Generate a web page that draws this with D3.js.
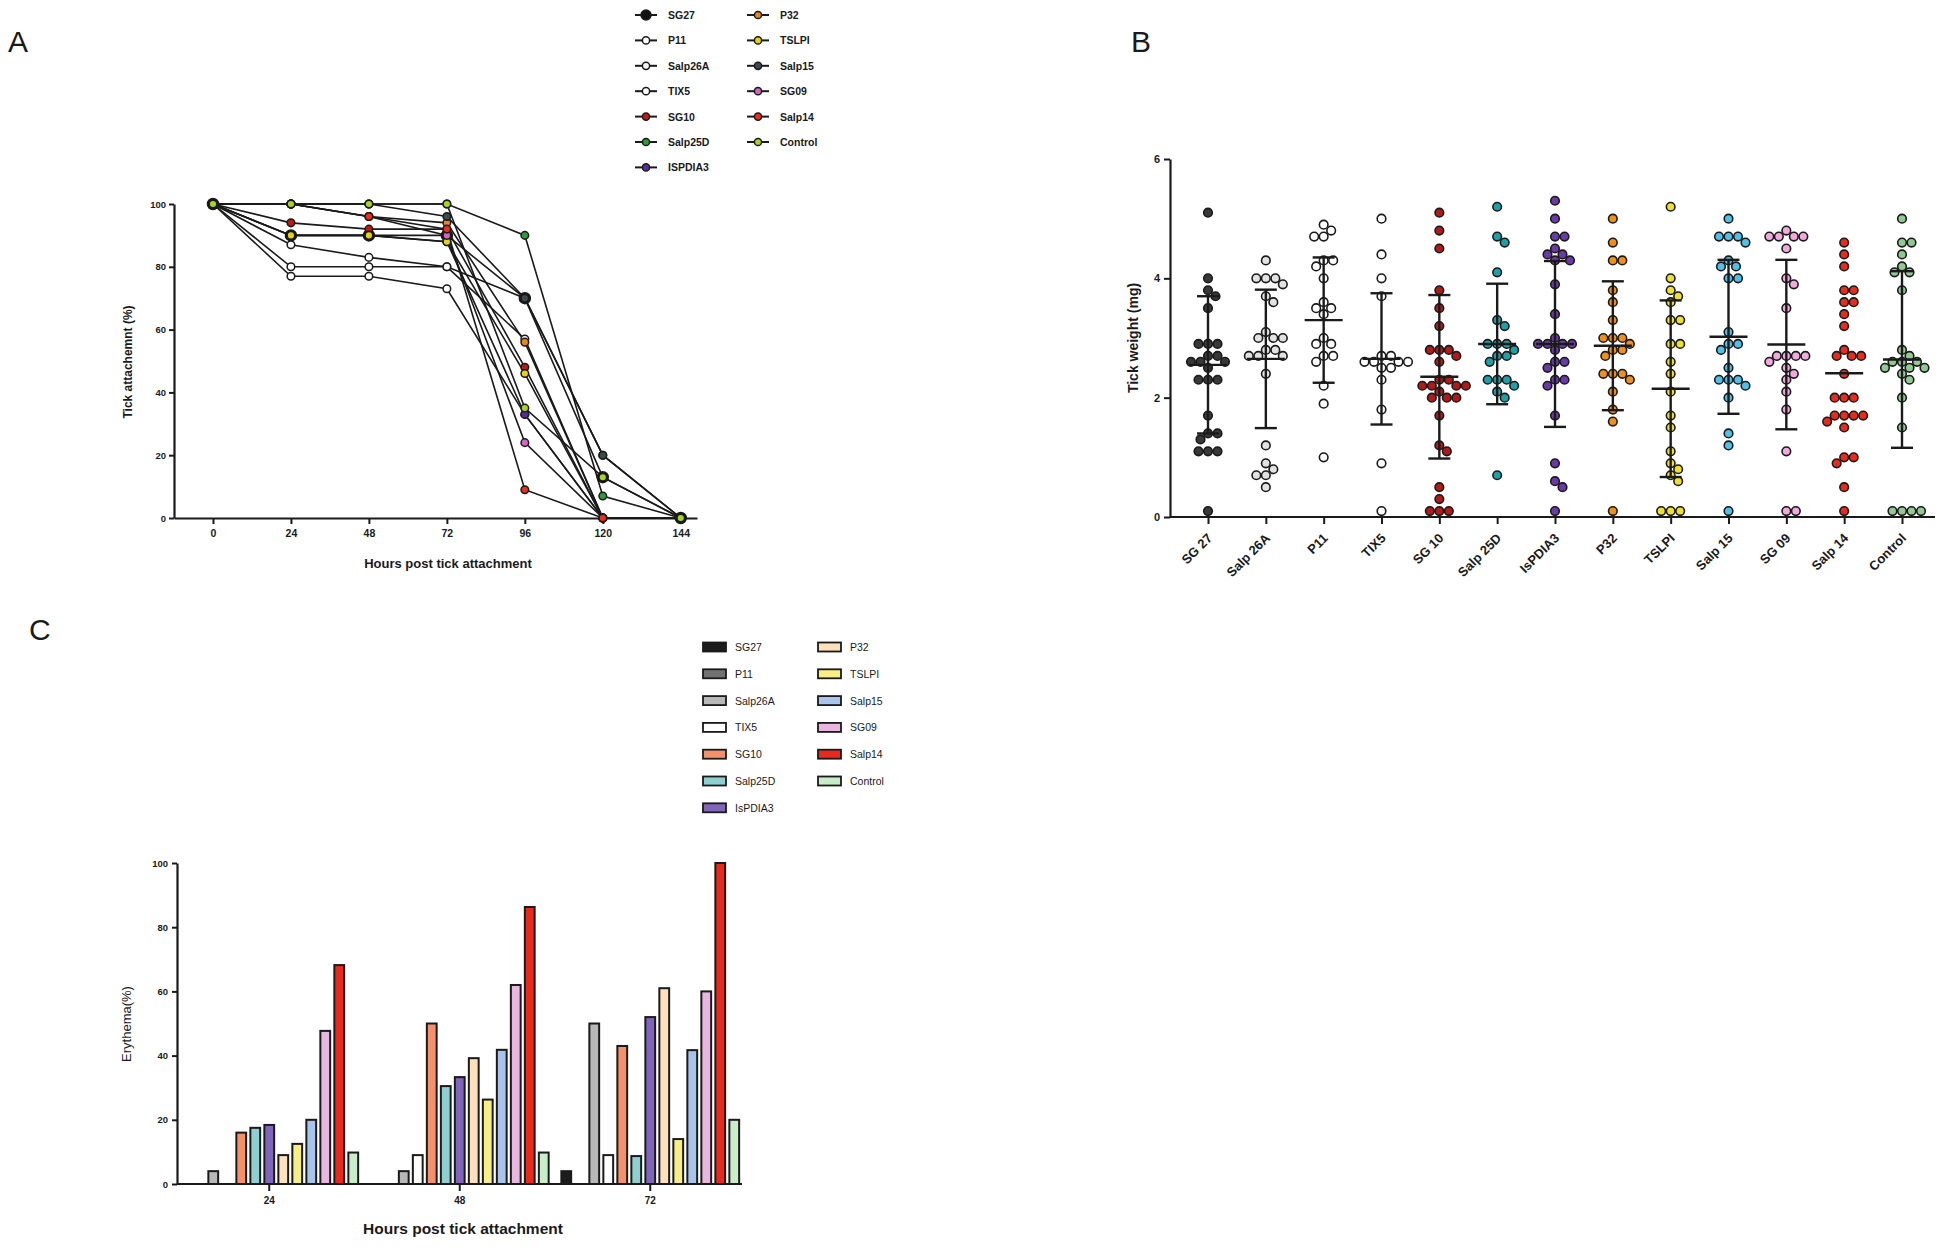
<!DOCTYPE html>
<html><head><meta charset="utf-8">
<script src="https://cdn.jsdelivr.net/npm/d3@7"></script>
<style>
body{margin:0;background:#fff}
text{font-family:"Liberation Sans",Arial,sans-serif;fill:#1a1a1a}
</style>
</head><body>
<svg id="c" width="1950" height="1248"></svg>
<script>
// ---------------- DATA ----------------
// Panel A: tick attachment (%) over time
const hoursA = [0, 24, 48, 72, 96, 120, 144];
const namesA = ["SG27","P11","Salp26A","TIX5","SG10","Salp25D","ISPDIA3","P32","TSLPI","Salp15","SG09","Salp14","Control"];
const colorsA = ["#111111","#ffffff","#ffffff","#ffffff","#b81c14","#2e9a3a","#5a2c9c","#e8881a","#e2d21c","#3c4c4c","#d264c4","#e8301c","#a8d42a"];
const attSG27    = [100, 90, 90, 90, 70, 13, 0];
const attP11     = [100, 80, 80, 80, 57, 0, 0];
const attSalp26A = [100, 77, 77, 73, 33, 0, 0];
const attTIX5    = [100, 87, 83, 80, 70, 20, 0];
const attSG10    = [100, 94, 92, 92, 48, 0, 0];
const attSalp25D = [100, 100, 100, 100, 90, 7, 0];
const attISPDIA3 = [100, 90, 90, 88, 33, 0, 0];
const attP32     = [100, 100, 96, 94, 56, 0, 0];
const attTSLPI   = [100, 90, 90, 88, 46, 0, 0];
const attSalp15  = [100, 100, 100, 96, 70, 20, 0];
const attSG09    = [100, 100, 96, 90, 24, 0, 0];
const attSalp14  = [100, 100, 96, 92, 9, 0, 0];
const attControl = [100, 100, 100, 100, 35, 13, 0];
const seriesA = [attSG27, attP11, attSalp26A, attTIX5, attSG10, attSalp25D, attISPDIA3, attP32, attTSLPI, attSalp15, attSG09, attSalp14, attControl];
const ticksA_y = [0, 20, 40, 60, 80, 100];

// Panel B: tick weight (mg)
const catsB = ["SG 27","Salp 26A","P11","TIX5","SG 10","Salp 25D","IsPDIA3","P32","TSLPI","Salp 15","SG 09","Salp 14","Control"];
const colorsB = ["#383838","#e2e2e2","#ffffff","#ffffff","#b01a18","#1fa0a6","#6a3aa6","#f0901c","#efdf30","#52c0e6","#f2aade","#e62c1c","#92c892"];
const wSG27    = [5.1,4.0,3.8,3.7,3.5,2.9,2.9,2.9,2.7,2.7,2.6,2.6,2.6,2.5,2.3,2.3,2.3,1.7,1.4,1.4,1.3,1.1,1.1,1.1,0.1];
const wSalp26A = [4.3,4.0,4.0,4.0,3.9,3.7,3.6,3.1,3.0,3.0,3.0,2.8,2.8,2.7,2.7,2.7,2.4,1.2,0.9,0.8,0.7,0.7,0.5];
const wP11     = [4.9,4.8,4.7,4.7,4.3,4.3,4.2,4.0,3.6,3.5,3.5,3.4,3.0,2.9,2.9,2.7,2.7,2.6,2.2,1.9,1.0];
const wTIX5    = [5.0,4.4,4.0,3.7,2.7,2.7,2.6,2.6,2.6,2.6,2.5,2.5,2.3,1.8,0.9,0.1];
const wSG10    = [5.1,4.8,4.5,3.8,3.5,3.2,2.8,2.8,2.8,2.7,2.6,2.3,2.3,2.2,2.2,2.2,2.2,2.1,2.0,2.0,2.0,1.7,1.2,1.1,0.5,0.3,0.1,0.1,0.1];
const wSalp25D = [5.2,4.7,4.6,4.1,3.3,3.2,2.9,2.9,2.9,2.8,2.7,2.7,2.6,2.3,2.3,2.3,2.2,2.1,2.0,0.7];
const wIsPDIA3 = [5.3,5.0,4.7,4.7,4.5,4.4,4.4,4.3,4.3,3.9,3.4,3.0,2.9,2.9,2.9,2.9,2.8,2.6,2.6,2.5,2.3,2.3,2.2,1.7,0.9,0.6,0.5,0.1];
const wP32     = [5.0,4.6,4.3,4.3,3.8,3.6,3.3,3.0,3.0,3.0,2.9,2.8,2.8,2.7,2.4,2.4,2.4,2.3,2.1,1.8,1.6,0.1];
const wTSLPI   = [5.2,4.0,3.8,3.7,3.6,3.3,3.3,2.9,2.9,2.6,2.4,2.1,1.7,1.5,1.1,0.9,0.8,0.7,0.6,0.1,0.1,0.1];
const wSalp15  = [5.0,4.7,4.7,4.7,4.6,4.3,4.2,4.2,4.0,4.0,3.1,2.9,2.9,2.8,2.5,2.3,2.3,2.3,2.2,2.0,1.4,1.2,0.1];
const wSG09    = [4.8,4.7,4.7,4.7,4.7,4.5,4.0,3.9,3.5,2.7,2.7,2.7,2.7,2.6,2.5,2.4,2.3,2.1,1.8,1.1,0.1,0.1];
const wSalp14  = [4.6,4.4,4.2,3.8,3.8,3.6,3.6,3.4,3.2,2.8,2.7,2.7,2.7,2.4,2.0,2.0,2.0,1.7,1.7,1.7,1.7,1.6,1.5,1.0,1.0,0.9,0.5,0.1];
const wControl = [5.0,4.6,4.6,4.4,4.2,4.1,4.1,3.8,2.8,2.7,2.6,2.6,2.6,2.5,2.5,2.5,2.4,2.3,2.0,1.5,0.1,0.1,0.1,0.1];
const weightsB = [wSG27,wSalp26A,wP11,wTIX5,wSG10,wSalp25D,wIsPDIA3,wP32,wTSLPI,wSalp15,wSG09,wSalp14,wControl];
const meanB = [2.55,2.65,3.3,2.65,2.35,2.9,2.9,2.87,2.15,3.02,2.89,2.41,2.64];
const sdB   = [1.15,1.16,1.05,1.1,1.37,1.01,1.39,1.08,1.48,1.29,1.42,null,1.48];
const ticksB_y = [0, 2, 4, 6];

// Panel C: erythema (%)
const hoursC = ["24","48","72"];
const namesC = ["SG27","P11","Salp26A","TIX5","SG10","Salp25D","IsPDIA3","P32","TSLPI","Salp15","SG09","Salp14","Control"];
const colorsC = ["#1c1c1c","#727272","#b8b8b8","#ffffff","#f4916c","#8ed0cf","#8066b8","#fde0bc","#f8ee86","#a9c4ea","#e9b6e0","#e82a1e","#c9ecc9"];
const eSG27    = [0, 0, 4];
const eP11     = [0, 0, 0];
const eSalp26A = [4, 4, 50];
const eTIX5    = [0, 9, 9];
const eSG10    = [16, 50, 43];
const eSalp25D = [17.5, 30.5, 8.7];
const eIsPDIA3 = [18.4, 33.3, 52];
const eP32     = [9, 39.2, 61];
const eTSLPI   = [12.5, 26.3, 14];
const eSalp15  = [20, 41.8, 41.7];
const eSG09    = [47.7, 62, 60];
const eSalp14  = [68.2, 86.3, 100];
const eControl = [9.8, 9.8, 20];
const seriesC = [eSG27,eP11,eSalp26A,eTIX5,eSG10,eSalp25D,eIsPDIA3,eP32,eTSLPI,eSalp15,eSG09,eSalp14,eControl];
const ticksC_y = [0, 20, 40, 60, 80, 100];

// ---------------- DRAW ----------------
const svg = d3.select("#c");
svg.append("rect").attr("width",1950).attr("height",1248).attr("fill","#fff");
const INK = "#1a1a1a";

function styleAxis(g, fs){
  g.selectAll("path.domain").attr("stroke",INK).attr("stroke-width",2.2);
  g.selectAll(".tick line").attr("stroke",INK).attr("stroke-width",2);
  g.selectAll(".tick text").attr("font-size",fs).attr("font-weight","bold").attr("fill",INK)
    .attr("font-family","'Liberation Sans',Arial,sans-serif");
}

// Panel letters
svg.append("text").attr("x",8).attr("y",52).attr("font-size",30).text("A");
svg.append("text").attr("x",1131).attr("y",52).attr("font-size",30).text("B");
svg.append("text").attr("x",29).attr("y",640).attr("font-size",30).text("C");

// ===== Panel A =====
{
  const xA = d3.scaleLinear().domain([-12, 149]).range([174, 697]);
  const yA = d3.scaleLinear().domain([0, 100]).range([518, 204]);
  const g = svg.append("g");
  const ax = g.append("g").attr("transform",`translate(0,${yA(0)})`)
    .call(d3.axisBottom(xA).tickValues(hoursA).tickSize(6).tickSizeOuter(0).tickPadding(6));
  styleAxis(ax, 10.5);
  const ay = g.append("g").attr("transform",`translate(${xA(-12)},0)`)
    .call(d3.axisLeft(yA).tickValues(ticksA_y).tickSize(5).tickSizeOuter(0).tickPadding(3));
  styleAxis(ay, 9.5);
  g.append("text").attr("x",448).attr("y",568).attr("text-anchor","middle")
    .attr("font-size",13).attr("font-weight","bold").text("Hours post tick attachment");
  g.append("text").attr("transform","translate(132,362) rotate(-90)").attr("text-anchor","middle")
    .attr("font-size",12).attr("font-weight","bold").text("Tick attachemnt (%)");

  const line = d3.line().x((d,i)=>xA(hoursA[i])).y(d=>yA(d));
  seriesA.forEach((s,k)=>{
    g.append("path").attr("d",line(s)).attr("fill","none").attr("stroke",INK).attr("stroke-width",1.6);
  });
  seriesA.forEach((s,k)=>{
    g.selectAll(null).data(s).join("circle")
      .attr("cx",(d,i)=>xA(hoursA[i])).attr("cy",d=>yA(d))
      .attr("r", k===0 ? 5.5 : 3.8)
      .attr("fill",colorsA[k]).attr("stroke",INK).attr("stroke-width",1.5);
  });

  // legend
  const lg = g.append("g");
  namesA.forEach((n,k)=>{
    const col = k<7 ? 0 : 1, row = k<7 ? k : k-7;
    const x0 = col===0 ? 635 : 747, y0 = 15 + row*25.4;
    lg.append("line").attr("x1",x0).attr("x2",x0+22).attr("y1",y0).attr("y2",y0).attr("stroke",INK).attr("stroke-width",2);
    lg.append("circle").attr("cx",x0+11).attr("cy",y0).attr("r",k===0?5:3.6)
      .attr("fill",colorsA[k]).attr("stroke",INK).attr("stroke-width",1.5);
    lg.append("text").attr("x",x0+33).attr("y",y0+4).attr("font-size",10.5).attr("font-weight","bold").attr("fill","#3a3a3a").text(n);
  });
}

// ===== Panel B =====
{
  const xB = d3.scalePoint().domain(catsB).range([1208, 1902]);
  const yB = d3.scaleLinear().domain([0, 6]).range([517, 159]);
  const g = svg.append("g");
  const x0 = xB(catsB[0]) - 38, x1 = xB(catsB[catsB.length-1]) + 33;
  // axes
  const ay = g.append("g").attr("transform",`translate(${x0},0)`)
    .call(d3.axisLeft(yB).tickValues(ticksB_y).tickFormat(d3.format("d")).tickSize(6).tickSizeOuter(0).tickPadding(4));
  styleAxis(ay, 11);
  g.append("line").attr("x1",x0).attr("x2",x1).attr("y1",yB(0)).attr("y2",yB(0)).attr("stroke",INK).attr("stroke-width",2.2);
  const ax = g.append("g").attr("transform",`translate(0,${yB(0)})`)
    .call(d3.axisBottom(xB).tickSize(7).tickSizeOuter(0).tickFormat(""));
  ax.select("path.domain").remove();
  styleAxis(ax, 11);
  catsB.forEach(c=>{
    g.append("text").attr("transform",`translate(${xB(c)+5},${yB(0)+22}) rotate(-45)`)
      .attr("text-anchor","end").attr("font-size",13).attr("font-weight","bold").text(c);
  });
  g.append("text").attr("transform","translate(1138,338) rotate(-90)").attr("text-anchor","middle")
    .attr("font-size",14).attr("font-weight","bold").text("Tick weight (mg)");

  // dots (swarm)
  const D = 9.2;
  weightsB.forEach((vals,k)=>{
    const cx = xB(catsB[k]);
    const placed = [];
    vals.slice().sort((a,b)=>b-a).forEach(v=>{
      const py = yB(v);
      let best = null;
      for(let dx=0; dx<60 && best===null; dx+=0.5){
        for(const s of (dx===0?[0]:[dx,-dx])){
          const px = cx + s;
          if(placed.every(p=>Math.hypot(p[0]-px,p[1]-py) >= D)){ best=[px,py]; break; }
        }
      }
      placed.push(best);
    });
    g.selectAll(null).data(placed).join("circle")
      .attr("cx",d=>d[0]).attr("cy",d=>d[1]).attr("r",4.3)
      .attr("fill",colorsB[k]).attr("stroke",INK).attr("stroke-width",1.6);
  });
  // mean & SD bars
  catsB.forEach((c,k)=>{
    const cx = xB(c), m = meanB[k], s = sdB[k];
    if(s!==null){
      g.append("line").attr("x1",cx).attr("x2",cx).attr("y1",yB(m-s)).attr("y2",yB(m+s)).attr("stroke",INK).attr("stroke-width",2.4);
      [m-s, m+s].forEach(v=>g.append("line").attr("x1",cx-11).attr("x2",cx+11).attr("y1",yB(v)).attr("y2",yB(v)).attr("stroke",INK).attr("stroke-width",2.4));
    }
    g.append("line").attr("x1",cx-19).attr("x2",cx+19).attr("y1",yB(m)).attr("y2",yB(m)).attr("stroke",INK).attr("stroke-width",2.4);
  });
}

// ===== Panel C =====
{
  const xC = d3.scaleBand().domain(hoursC).range([174, 745.5]).padding(0);
  const xIn = d3.scaleBand().domain(namesC).range([0, 182]).paddingInner(0.3).paddingOuter(0.15);
  const yC = d3.scaleLinear().domain([0, 100]).range([1184, 863]);
  const g = svg.append("g");
  const gx0 = 177;
  // bars
  seriesC.forEach((vals,k)=>{
    g.selectAll(null).data(vals).join("rect")
      .attr("x",(d,i)=>xC(hoursC[i]) + xC.bandwidth()/2 - 91 + xIn(namesC[k]))
      .attr("y",d=>yC(d)).attr("width",xIn.bandwidth()).attr("height",d=>yC(0)-yC(d))
      .attr("fill",colorsC[k]).attr("stroke",d=>d>0?INK:"none").attr("stroke-width",2);
  });
  const ay = g.append("g").attr("transform",`translate(${gx0},0)`)
    .call(d3.axisLeft(yC).tickValues(ticksC_y).tickSize(5).tickSizeOuter(0).tickPadding(4));
  styleAxis(ay, 9.5);
  g.append("line").attr("x1",gx0).attr("x2",742).attr("y1",yC(0)).attr("y2",yC(0)).attr("stroke",INK).attr("stroke-width",2.2);
  const ax = g.append("g").attr("transform",`translate(0,${yC(0)})`)
    .call(d3.axisBottom(xC).tickSize(7).tickSizeOuter(0).tickPadding(6));
  ax.select("path.domain").remove();
  styleAxis(ax, 10);
  g.append("text").attr("x",463).attr("y",1234).attr("text-anchor","middle")
    .attr("font-size",15.5).attr("font-weight","bold").text("Hours post tick attachment");
  g.append("text").attr("transform","translate(131,1024) rotate(-90)").attr("text-anchor","middle")
    .attr("font-size",13).attr("font-weight","normal").text("Erythema(%)");

  // legend
  namesC.forEach((n,k)=>{
    const col = k<7 ? 0 : 1, row = k<7 ? k : k-7;
    const x0 = col===0 ? 703 : 818, y0 = 647 + row*26.8;
    g.append("rect").attr("x",x0).attr("y",y0-4.5).attr("width",23).attr("height",9)
      .attr("fill",colorsC[k]).attr("stroke",INK).attr("stroke-width",1.8);
    g.append("text").attr("x",x0+32).attr("y",y0+4).attr("font-size",10.5).attr("fill","#444").text(n);
  });
}
</script>
</body></html>
